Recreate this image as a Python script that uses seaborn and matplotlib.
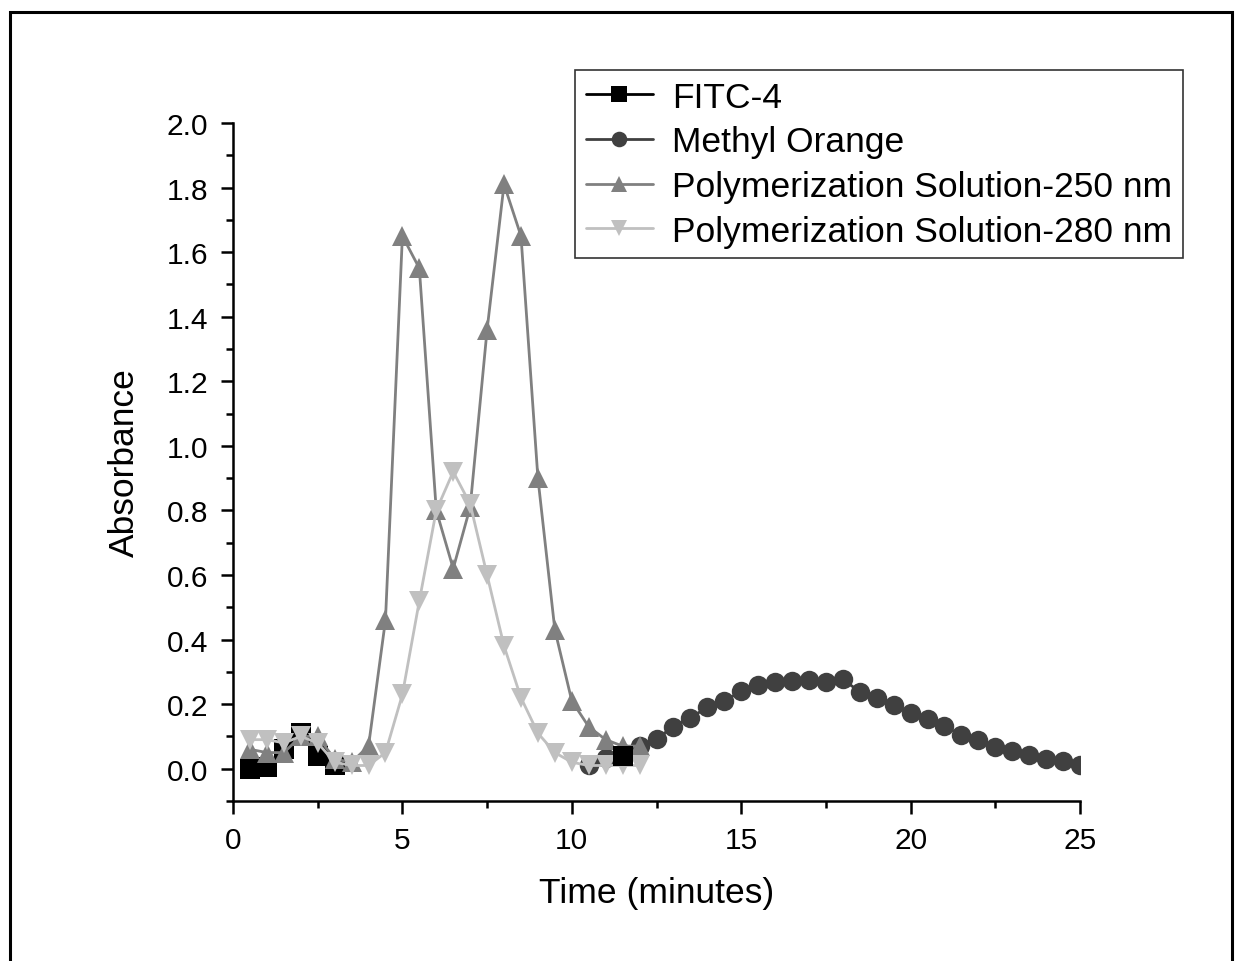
import numpy as np
import pandas as pd
import seaborn as sns
import matplotlib
matplotlib.use("Agg")
import matplotlib.pyplot as plt
from matplotlib.patches import Rectangle
from matplotlib.ticker import MultipleLocator

# ---- data ----
fitc_t1 = [0.5, 1.0, 1.5, 2.0, 2.5, 3.0]
fitc_a1 = [0.00, 0.005, 0.06, 0.11, 0.04, 0.01]
fitc_t2 = [11.5]
fitc_a2 = [0.04]

mo_t = [10.5, 11.0, 11.5, 12.0, 12.5, 13.0, 13.5, 14.0, 14.5, 15.0, 15.5, 16.0,
        16.5, 17.0, 17.5, 18.0, 18.5, 19.0, 19.5, 20.0, 20.5, 21.0, 21.5, 22.0,
        22.5, 23.0, 23.5, 24.0, 24.5, 25.0]
mo_a = [0.01, 0.034, 0.05, 0.07, 0.093, 0.13, 0.158, 0.19, 0.21, 0.24, 0.258, 0.27,
        0.272, 0.274, 0.268, 0.277, 0.238, 0.22, 0.196, 0.173, 0.155, 0.131, 0.105, 0.088,
        0.068, 0.054, 0.044, 0.031, 0.024, 0.012]

ps_t = [0.5, 1.0, 1.5, 2.0, 2.5, 3.0, 3.5, 4.0, 4.5, 5.0, 5.5, 6.0, 6.5, 7.0, 7.5, 8.0,
        8.5, 9.0, 9.5, 10.0, 10.5, 11.0, 11.5, 12.0]
ps250_a = [0.06, 0.05, 0.05, 0.10, 0.10, 0.03, 0.02, 0.07, 0.46, 1.65, 1.55, 0.80, 0.62,
           0.81, 1.36, 1.81, 1.65, 0.90, 0.43, 0.21, 0.13, 0.09, 0.07, 0.07]
ps280_a = [0.09, 0.09, 0.08, 0.10, 0.08, 0.02, 0.01, 0.01, 0.05, 0.23, 0.52, 0.80, 0.92,
           0.82, 0.60, 0.38, 0.22, 0.11, 0.05, 0.02, 0.01, 0.01, 0.01, 0.01]

labels = ["FITC-4", "Methyl Orange", "Polymerization Solution-250 nm",
          "Polymerization Solution-280 nm"]
colors = ["#000000", "#404040", "#808080", "#c0c0c0"]

# ---- style ----
sns.set_theme(style="ticks")
plt.rcParams["font.family"] = ["Liberation Sans", "DejaVu Sans"]
plt.rcParams["text.color"] = "black"
plt.rcParams["axes.labelcolor"] = "black"
plt.rcParams["xtick.color"] = "black"
plt.rcParams["ytick.color"] = "black"

fig = plt.figure(figsize=(12.5, 9.62), dpi=100)
ax = fig.add_axes([233 / 1250, 1 - 802 / 962, (1080 - 233) / 1250, (802 - 124) / 962])

ms = 14
common = dict(ax=ax, linewidth=2.0, markeredgewidth=0, markersize=ms)

sns.lineplot(x=fitc_t1, y=fitc_a1, color=colors[0], marker="s", label=labels[0], **common)
sns.lineplot(x=mo_t, y=mo_a, color=colors[1], marker="o", label=labels[1], **common)
sns.lineplot(x=ps_t, y=ps250_a, color=colors[2], marker="^", label=labels[2], **common)
sns.lineplot(x=ps_t, y=ps280_a, color=colors[3], marker="v", label=labels[3], **common)
sns.lineplot(x=fitc_t2, y=fitc_a2, color=colors[0], marker="s", **common)

ax.set_xlim(0, 25)
ax.set_ylim(-0.1, 2.0)
ax.xaxis.set_major_locator(MultipleLocator(5))
ax.xaxis.set_minor_locator(MultipleLocator(2.5))
ax.yaxis.set_minor_locator(MultipleLocator(0.1))
yt = np.round(np.arange(0, 2.01, 0.2), 1)
ax.set_yticks(yt)
ax.set_yticklabels([f"{v:.1f}" for v in yt])

for s in ["top", "right"]:
    ax.spines[s].set_visible(False)
for s in ["left", "bottom"]:
    ax.spines[s].set_linewidth(1.8)
    ax.spines[s].set_color("black")

ax.tick_params(which="major", direction="out", length=9, width=1.8, labelsize=21.5,
               colors="black", pad=9)
ax.tick_params(which="minor", direction="out", length=5, width=1.8, colors="black")

ax.set_xlabel("Time (minutes)", fontsize=25.5, labelpad=16)
ax.set_ylabel("Absorbance", fontsize=25.5, labelpad=18)

leg = ax.legend(loc="upper left", bbox_to_anchor=(575 / 1250, 1 - 71 / 962),
                bbox_transform=fig.transFigure, fontsize=25.5, frameon=True,
                fancybox=False, borderaxespad=0, borderpad=0.3, labelspacing=0.33,
                handlelength=1.9, handletextpad=0.55, markerscale=0.8)
leg.get_frame().set_edgecolor("black")
leg.get_frame().set_linewidth(1.2)

fig.add_artist(Rectangle((10 / 1250, -0.02), (1232 - 10) / 1250, 1 - 13 / 962 + 0.02,
                         transform=fig.transFigure, fill=False, edgecolor="black",
                         linewidth=2.2, clip_on=False))

fig.savefig("out.png", dpi=100)
